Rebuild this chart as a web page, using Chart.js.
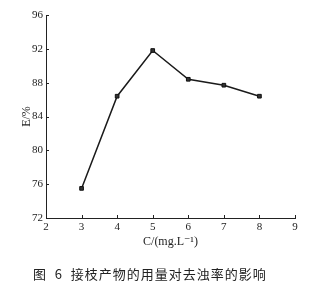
<!DOCTYPE html>
<html lang="zh">
<head>
    <meta charset="UTF-8">
    <title>接枝产物的用量对去浊率的影响</title>
    <script src="https://cdn.jsdelivr.net/npm/chart.js"></script>
    <style>
        body { margin: 0; background: #fff; }
        #wrap { position: relative; width: 321px; height: 286px; }
        #caption {
            position: absolute;
            left: 33px;
            top: 264px;
            font-family: "Noto Sans CJK SC", sans-serif;
            font-size: 13px;
            letter-spacing: 1px;
            color: #222;
            white-space: pre;
        }
    </style>
</head>
<body>
    <div id="wrap">
        <canvas id="chart" width="321" height="286"></canvas>
        <div id="caption">图  6  接枝产物的用量对去浊率的影响</div>
    </div>

    <script>
        // values
        const dosage = [3, 4, 5, 6, 7, 8];
        const removal = [75.5, 86.4, 91.8, 88.4, 87.7, 86.4];
        const xTicks = [2, 3, 4, 5, 6, 7, 8, 9];
        const yTicks = [72, 76, 80, 84, 88, 92, 96];

        const serif = "'Liberation Serif', 'DejaVu Serif', serif";

        // small tick marks pointing into the plot
        const innerTicks = {
            id: 'innerTicks',
            afterDraw(chart) {
                const ctx = chart.ctx;
                const xs = chart.scales.x, ys = chart.scales.y;
                ctx.save();
                ctx.strokeStyle = '#222';
                ctx.lineWidth = 1;
                ctx.beginPath();
                xTicks.forEach(v => {
                    const px = Math.round(xs.getPixelForValue(v)) + 0.5;
                    ctx.moveTo(px, ys.bottom);
                    ctx.lineTo(px, ys.bottom - 3);
                });
                yTicks.forEach(v => {
                    const py = Math.round(ys.getPixelForValue(v)) + 0.5;
                    ctx.moveTo(xs.left, py);
                    ctx.lineTo(xs.left + 3, py);
                });
                ctx.stroke();
                ctx.restore();
            }
        };

        new Chart(document.getElementById('chart'), {
            type: 'line',
            data: {
                datasets: [{
                    data: dosage.map((c, i) => ({ x: c, y: removal[i] })),
                    borderColor: '#1a1a1a',
                    borderWidth: 1.5,
                    pointStyle: 'rect',
                    pointRadius: 2.6,
                    pointBackgroundColor: '#333',
                    pointBorderColor: '#111',
                    pointBorderWidth: 1,
                    tension: 0
                }]
            },
            options: {
                responsive: false,
                animation: false,
                events: [],
                layout: { padding: { left: 16, top: 15, right: 26, bottom: 33 } },
                plugins: {
                    legend: { display: false },
                    tooltip: { enabled: false }
                },
                scales: {
                    x: {
                        type: 'linear',
                        min: 2,
                        max: 9,
                        afterBuildTicks: s => { s.ticks = xTicks.map(v => ({ value: v })); },
                        afterFit: s => { s.height = 35; },
                        grid: { drawOnChartArea: false, drawTicks: false },
                        border: { display: true, color: '#222', width: 1 },
                        ticks: {
                            padding: 3,
                            color: '#222',
                            font: { family: serif, size: 11 }
                        },
                        title: {
                            display: true,
                            text: 'C/(mg.L⁻¹)',
                            color: '#222',
                            font: { family: serif, size: 12 },
                            padding: { top: 4, bottom: 4 }
                        }
                    },
                    y: {
                        min: 72,
                        max: 96,
                        afterBuildTicks: s => { s.ticks = yTicks.map(v => ({ value: v })); },
                        afterFit: s => { s.width = 30; },
                        grid: { drawOnChartArea: false, drawTicks: false },
                        border: { display: true, color: '#222', width: 1 },
                        ticks: {
                            padding: 3,
                            color: '#222',
                            font: { family: serif, size: 11 }
                        },
                        title: {
                            display: true,
                            text: 'E/%',
                            color: '#222',
                            font: { family: serif, size: 12 },
                            padding: { top: 4, bottom: 4 }
                        }
                    }
                }
            },
            plugins: [innerTicks]
        });
    </script>
</body>
</html>
